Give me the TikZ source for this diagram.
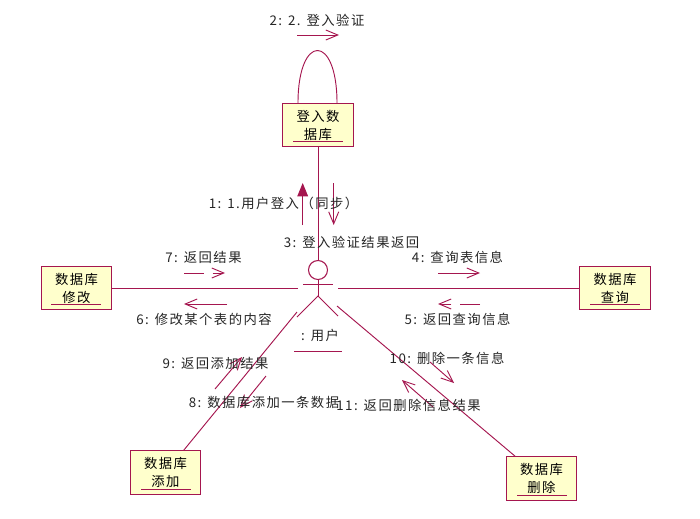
\documentclass[tikz,border=0pt]{standalone}
\usepackage{fontspec}
\setmainfont{Noto Sans CJK SC}[LetterSpace=11]
\usetikzlibrary{arrows.meta}
\definecolor{umlline}{HTML}{A5164F}
\definecolor{umlfill}{HTML}{FFFFCC}
\tikzset{
  x=0.75pt,y=-0.75pt,
  obj/.style={draw=umlline,fill=umlfill,line width=0.9pt,minimum width=53pt,minimum height=32.6pt,inner sep=0pt,align=center,font=\fontsize{10pt}{13.5pt}\selectfont},
  link/.style={draw=umlline,line width=0.7pt},
  uline/.style={draw=umlline,line width=0.7pt},
  msg/.style={draw=umlline,line width=0.7pt,-{Straight Barb[length=9pt,width=7.5pt,line width=0.7pt]}},
  syncmsg/.style={draw=umlline,line width=0.7pt,-{Triangle[length=10pt,width=8pt,fill=umlline]}},
  lbl/.style={inner sep=0pt,font=\fontsize{10pt}{11pt}\selectfont,text=black!85}
}
\begin{document}
\begin{tikzpicture}
\useasboundingbox (0,0) rectangle (700,518);
\fill[white] (0,0) rectangle (700,518);
% objects
\node[obj] (login) at (318,125) {登入数\\据库};
\node[obj] (mod) at (76.5,288) {数据库\\修改};
\node[obj] (qry) at (615,288) {数据库\\查询};
\node[obj] (add) at (165.5,472.5) {数据库\\添加};
\node[obj] (del) at (541.5,478.5) {数据库\\删除};
\draw[uline] (293,141) -- (343,141);
\draw[uline] (51,304) -- (101,304);
\draw[uline] (590,304) -- (640,304);
\draw[uline] (141,489) -- (191,489);
\draw[uline] (517,495) -- (567,495);
% actor
\node[draw=umlline,line width=0.8pt,circle,minimum size=14.25pt,inner sep=0pt] (user) at (318,270) {};
\coordinate (hip) at (318,296);
\coordinate (armL) at (303,284);
\coordinate (armR) at (333,284);
\coordinate (legL) at (297,317);
\coordinate (legR) at (338,316);
\draw[link] (user) -- (hip);
\draw[link] (armL) -- (armR);
\draw[link] (legL) -- (hip) -- (legR);
\node[lbl] (userlbl) at (320,335) {: 用户};
\draw[uline] (294,351) -- (342,351);
% links
\coordinate (loopL) at (298,103);
\coordinate (loopR) at (337,103);
\coordinate (modend) at (298,288);
\coordinate (qryend) at (338,288);
\coordinate (addend) at (297,312);
\coordinate (delend) at (337,306);
\draw[link] (loopL) .. controls (298,33) and (337,33) .. (loopR);
\draw[link] (login) -- (user);
\draw[link] (mod) -- (modend);
\draw[link] (qry) -- (qryend);
\draw[link] (add) -- (addend);
\draw[link] (del) -- (delend);
% messages
\coordinate (m2a) at (297,35); \coordinate (m2b) at (339,35);
\coordinate (m1a) at (302.7,225); \coordinate (m1b) at (302.7,183);
\coordinate (m3a) at (333.7,183); \coordinate (m3b) at (333.7,225);
\coordinate (m7a) at (184,273); \coordinate (m7b) at (225,273);
\coordinate (m6a) at (227,304); \coordinate (m6b) at (184,304);
\coordinate (m4a) at (438,273); \coordinate (m4b) at (480,273);
\coordinate (m5a) at (480,304); \coordinate (m5b) at (438,304);
\coordinate (m9a) at (215,389); \coordinate (m9b) at (242,357);
\coordinate (m8a) at (266,376); \coordinate (m8b) at (240,408);
\coordinate (m10a) at (430,362); \coordinate (m10b) at (454,383);
\coordinate (m11a) at (433,407); \coordinate (m11b) at (402,380);
\draw[msg] (m2a) -- (m2b);
\draw[syncmsg] (m1a) -- (m1b);
\draw[msg] (m3a) -- (m3b);
\draw[msg,dash pattern=on 15pt off 6.5pt on 30pt] (m7a) -- (m7b);
\draw[msg] (m6a) -- (m6b);
\draw[msg] (m4a) -- (m4b);
\draw[msg,dash pattern=on 15pt off 6.5pt on 30pt] (m5a) -- (m5b);
\draw[msg] (m9a) -- (m9b);
\draw[msg] (m8a) -- (m8b);
\draw[msg] (m10a) -- (m10b);
\draw[msg] (m11a) -- (m11b);
% labels
\node[lbl] (l2) at (317,20) {2: 2. 登入验证};
\node[lbl] (l1) at (283.5,203) {1: 1.用户登入（同步）};
\node[lbl] (l3) at (351.5,242) {3: 登入验证结果返回};
\node[lbl] (l7) at (203.5,257) {7: 返回结果};
\node[lbl] (l6) at (204,319) {6: 修改某个表的内容};
\node[lbl] (l4) at (457.5,257) {4: 查询表信息};
\node[lbl] (l5) at (457.5,319) {5: 返回查询信息};
\node[lbl] (l9) at (215.5,363) {9: 返回添加结果};
\node[lbl] (l8) at (264,402) {8: 数据库添加一条数据};
\node[lbl] (l10) at (447,358) {10: 删除一条信息};
\node[lbl] (l11) at (408.5,405) {11: 返回删除信息结果};
\end{tikzpicture}
\end{document}
